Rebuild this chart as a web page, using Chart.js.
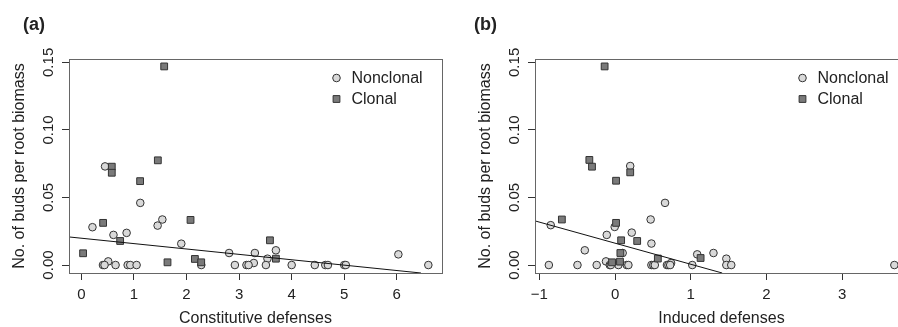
<!DOCTYPE html>
<html>
<head>
<meta charset="utf-8">
<script src="https://cdn.jsdelivr.net/npm/chart.js@4.4.1/dist/chart.umd.min.js"></script>
<style>
  html, body { margin: 0; padding: 0; background: #fff; }
  #wrap { position: relative; width: 898px; height: 327px; overflow: hidden; background: #fff; }
  .panel { position: absolute; top: 0; width: 449px; height: 327px; }
  .plab { position: absolute; top: 15px; font: bold 18px "Liberation Sans", Arial, sans-serif; line-height: 18px; color: #222; }
</style>
</head>
<body>
<div id="wrap">
  <div class="panel" style="left:0px"><canvas id="ca" width="449" height="327"></canvas></div>
  <div class="panel" style="left:466px"><canvas id="cb" width="449" height="327"></canvas></div>
  <div class="plab" style="left:23px">(a)</div>
  <div class="plab" style="left:474px">(b)</div>
</div>
<script>
// ---------- data ----------
const seriesNames = ["Nonclonal", "Clonal"];
const yTitle = "No. of buds per root biomass";
const aXTitle = "Constitutive defenses";
const bXTitle = "Induced defenses";

const yRange = [-0.0059, 0.1525];
const aXRange = [-0.236, 6.86];
const bXRange = [-1.058, 3.87];

// Panel (a): constitutive defenses
const aNonclonalX = [0.45, 1.12, 1.54, 1.45, 0.21, 0.61, 0.86, 1.90, 2.81, 3.30, 3.70, 3.54, 3.28, 6.03, 0.51,
                     0.41, 0.44, 0.65, 0.88, 0.93, 1.05, 2.28, 2.92, 3.14, 3.18, 3.51, 4.00, 4.44, 4.64, 4.69, 5.00, 5.03, 6.60];
const aNonclonalY = [0.073, 0.046, 0.0337, 0.0292, 0.028, 0.0223, 0.0238, 0.0158, 0.0089, 0.0089, 0.0109, 0.0047, 0.0015, 0.0079, 0.0027,
                     0, 0, 0, 0, 0, 0, 0, 0, 0, 0, 0, 0, 0, 0, 0, 0, 0, 0];
const aClonalX = [1.575, 0.578, 0.578, 1.454, 1.117, 0.413, 0.032, 0.737, 2.076, 1.638, 2.159, 2.279, 3.587, 3.70];
const aClonalY = [0.147, 0.0728, 0.0683, 0.0775, 0.0621, 0.0312, 0.0087, 0.0178, 0.0334, 0.0020, 0.0045, 0.0020, 0.0183, 0.0047];
const aFitX = [-0.24, 6.46];
const aFitY = [0.0208, -0.0059];

// Panel (b): induced defenses
const bNonclonalX = [0.20, 0.66, 0.47, -0.85, -0.005, 0.22, -0.11, 0.48, -0.40, 0.10, 1.085, 1.30, 1.47, -0.12, 0.74,
                     -0.875, -0.497, -0.243, -0.07, -0.056, 0.044, 0.154, 0.176, 0.48, 0.505, 0.525, 0.685, 0.705, 0.728, 1.02, 1.47, 1.535, 3.69];
const bNonclonalY = [0.0733, 0.046, 0.0337, 0.0295, 0.0282, 0.024, 0.0223, 0.0159, 0.0109, 0.0089, 0.0079, 0.0089, 0.0047, 0.0027, 0.0015,
                     0, 0, 0, 0, 0, 0, 0, 0, 0, 0, 0, 0, 0, 0, 0, 0, 0, 0];
const bClonalX = [-0.138, -0.34, -0.305, 0.013, 0.20, -0.703, 0.013, 0.08, 0.292, 0.07, 0.065, -0.04, 0.565, 1.13];
const bClonalY = [0.147, 0.0778, 0.0728, 0.0624, 0.0686, 0.0337, 0.0312, 0.0183, 0.0178, 0.0089, 0.0025, 0.0020, 0.0048, 0.0052];
const bFitX = [-1.06, 1.415];
const bFitY = [0.0327, -0.0059];

// ---------- styling ----------
const FAM = '"Liberation Sans", Arial, Helvetica, sans-serif';
const TXT = '#222';
const AX = '#333';
const circleStyle = { pointStyle: 'circle', pointRadius: 3.8, backgroundColor: '#d9d9d9', borderColor: '#333', borderWidth: 1 };
const rectStyle = { pointStyle: 'rect', pointRadius: 4.8, backgroundColor: '#7a7a7a', borderColor: '#333', borderWidth: 1 };

const zip = (xs, ys) => xs.map((x, i) => ({ x: x, y: ys[i] }));

const rPlugin = {
  id: 'rbox',
  afterDraw(chart) {
    const ctx = chart.ctx, a = chart.chartArea;
    ctx.save();
    ctx.strokeStyle = '#666';
    ctx.lineWidth = 1;
    ctx.strokeRect(Math.round(a.left) + 0.5, Math.round(a.top) + 0.5, Math.round(a.right - a.left), Math.round(a.bottom - a.top));
    // legend (top-right inset, R style)
    const sx = a.right - 105.5;
    const rows = [a.top + 19, a.top + 40];
    const sets = seriesNames.map(n => chart.data.datasets.find(d => d.label === n));
    ctx.font = '16px ' + FAM;
    ctx.textBaseline = 'middle';
    ctx.textAlign = 'left';
    sets.forEach((ds, i) => {
      ctx.fillStyle = ds.backgroundColor;
      ctx.strokeStyle = ds.borderColor;
      ctx.lineWidth = 1;
      ctx.beginPath();
      if (ds.pointStyle === 'circle') {
        ctx.arc(sx, rows[i], ds.pointRadius, 0, Math.PI * 2);
      } else {
        const h = ds.pointRadius * Math.SQRT1_2;
        ctx.rect(sx - h, rows[i] - h, 2 * h, 2 * h);
      }
      ctx.fill(); ctx.stroke();
      ctx.fillStyle = TXT;
      ctx.fillText(ds.label, sx + 15, rows[i] + 1);
    });
    ctx.restore();
  }
};

function makeChart(id, nX, nY, cX, cY, fX, fY, xRange, xTitle) {
  const cfg = {
    type: 'scatter',
    data: {
      datasets: [
        { label: 'fit', data: zip(fX, fY), showLine: true, pointRadius: 0, borderColor: '#111', borderWidth: 1, fill: false },
        Object.assign({ label: seriesNames[1], data: zip(cX, cY) }, rectStyle),
        Object.assign({ label: seriesNames[0], data: zip(nX, nY) }, circleStyle)
      ]
    },
    options: {
      responsive: false,
      animation: false,
      events: [],
      layout: { padding: { top: 59, right: 7, left: 0, bottom: 0 } },
      plugins: { legend: { display: false }, tooltip: { enabled: false }, title: { display: false } },
      scales: {
        x: {
          type: 'linear', min: xRange[0], max: xRange[1],
          ticks: {
            stepSize: 1, includeBounds: false, autoSkip: false, maxRotation: 0, padding: 6,
            font: { size: 15, family: FAM }, color: TXT,
            callback: v => (v < 0 ? '\u2212' + Math.abs(v) : String(v))
          },
          grid: { drawOnChartArea: false, drawTicks: true, tickLength: 7, color: AX },
          border: { display: true, color: AX },
          title: { display: true, text: xTitle, color: TXT, font: { size: 16, family: FAM, lineHeight: 1 }, padding: { top: 0, bottom: 0 } },
          afterFit: s => { s.height = 54; }
        },
        y: {
          type: 'linear', min: yRange[0], max: yRange[1],
          ticks: {
            stepSize: 0.05, includeBounds: false, autoSkip: false, minRotation: 90, maxRotation: 90,
            crossAlign: 'center', padding: -1,
            font: { size: 15, family: FAM }, color: TXT,
            callback: v => Number(v).toFixed(2)
          },
          grid: { drawOnChartArea: false, drawTicks: true, tickLength: 7, color: AX },
          border: { display: true, color: AX },
          title: { display: true, text: yTitle, color: TXT, font: { size: 16, family: FAM, lineHeight: 1 }, padding: { top: 12, bottom: 0 } },
          afterFit: s => { s.width = 69; }
        }
      }
    },
    plugins: [rPlugin]
  };
  return new Chart(document.getElementById(id), cfg);
}

makeChart('ca', aNonclonalX, aNonclonalY, aClonalX, aClonalY, aFitX, aFitY, aXRange, aXTitle);
makeChart('cb', bNonclonalX, bNonclonalY, bClonalX, bClonalY, bFitX, bFitY, bXRange, bXTitle);
</script>
</body>
</html>
